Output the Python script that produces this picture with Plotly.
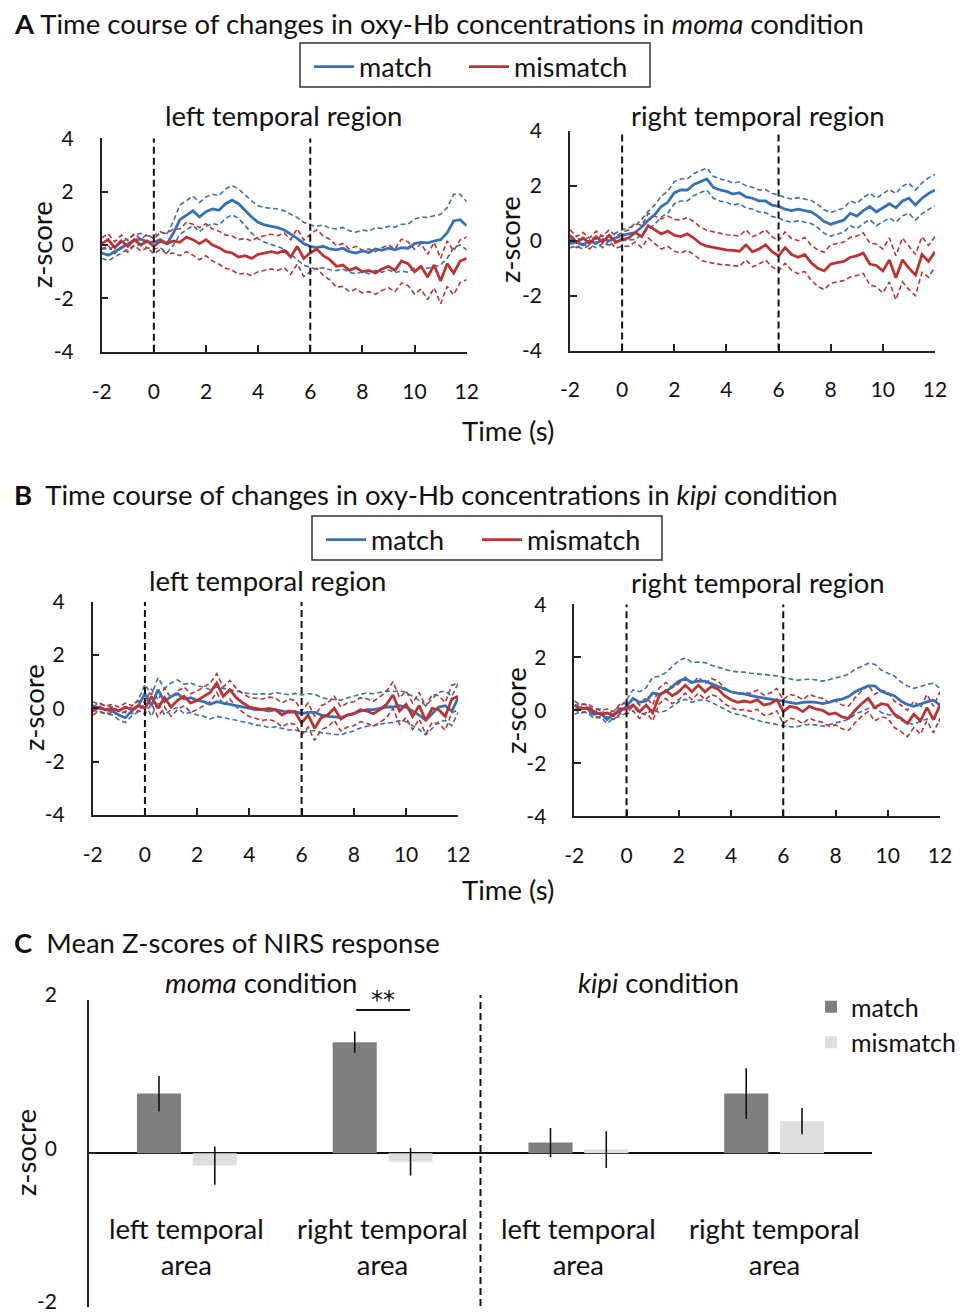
import plotly.graph_objects as go

# The page is shown with the browser's default 8 px body margin, so the
# figure is sized to fill the remaining window and every layout position
# below is given in window pixels and converted here.
PAGE_OFFSET = 8
W, H = 962, 1308


def px(x):
    return (x - PAGE_OFFSET) / W


def py(y):
    return 1 - (y - PAGE_OFFSET) / H


FONT = "Lato"
BLUE = "#3670B5"
RED = "#BB3333"
INK = "#111111"

# ---------------- time course data (z-score), 0.25 s steps ----------------
time_s = [-2.0, -1.75, -1.5, -1.25, -1.0, -0.75, -0.5, -0.25,
          0.0, 0.25, 0.5, 0.75, 1.0, 1.25, 1.5, 1.75,
          2.0, 2.25, 2.5, 2.75, 3.0, 3.25, 3.5, 3.75,
          4.0, 4.25, 4.5, 4.75, 5.0, 5.25, 5.5, 5.75,
          6.0, 6.25, 6.5, 6.75, 7.0, 7.25, 7.5, 7.75,
          8.0, 8.25, 8.5, 8.75, 9.0, 9.25, 9.5, 9.75,
          10.0, 10.25, 10.5, 10.75, 11.0, 11.25, 11.5, 11.75,
          12.0]

# A: moma condition, left temporal region
moma_left_match = [-0.30, -0.38, -0.25, -0.10, 0.05, 0.18, 0.22, 0.12,
                   0.10, 0.20, 0.05, 0.45, 0.95, 1.10, 1.28, 1.05,
                   1.25, 1.35, 1.30, 1.55, 1.68, 1.55, 1.30, 1.05,
                   0.85, 0.75, 0.70, 0.65, 0.56, 0.40, 0.25, 0.05,
                   -0.05, -0.10, -0.05, -0.15, -0.18, -0.12, -0.25, -0.30,
                   -0.22, -0.28, -0.15, -0.20, -0.12, -0.18, -0.10, -0.12,
                   0.05, 0.10, 0.08, 0.15, 0.20, 0.45, 0.90, 0.95,
                   0.72]
moma_left_match_se = [0.20, 0.20, 0.20, 0.20, 0.20, 0.20, 0.22, 0.22,
                      0.25, 0.30, 0.35, 0.45, 0.55, 0.55, 0.55, 0.55,
                      0.55, 0.55, 0.55, 0.55, 0.55, 0.55, 0.58, 0.60,
                      0.62, 0.65, 0.68, 0.70, 0.72, 0.75, 0.78, 0.80,
                      0.80, 0.80, 0.80, 0.78, 0.78, 0.78, 0.78, 0.78,
                      0.78, 0.80, 0.80, 0.82, 0.82, 0.85, 0.88, 0.90,
                      0.92, 0.95, 0.95, 0.95, 0.95, 0.95, 1.00, 0.95,
                      0.90]
moma_left_mismatch = [0.05, 0.20, -0.10, 0.15, -0.05, 0.20, 0.00, 0.15,
                      -0.05, 0.15, 0.05, 0.15, 0.10, 0.30, 0.20, 0.05,
                      0.20, 0.00, -0.10, -0.25, -0.30, -0.45, -0.40, -0.50,
                      -0.35, -0.30, -0.25, -0.30, -0.20, -0.45, -0.05, -0.50,
                      -0.30, -0.15, -0.40, -0.55, -0.80, -0.75, -0.95, -0.85,
                      -1.00, -0.95, -1.05, -0.90, -0.80, -0.95, -0.60, -0.70,
                      -1.00, -0.80, -1.20, -0.75, -1.35, -0.70, -1.05, -0.60,
                      -0.50]
moma_left_mismatch_se = [0.22, 0.22, 0.22, 0.22, 0.22, 0.22, 0.22, 0.25,
                         0.28, 0.32, 0.38, 0.45, 0.50, 0.55, 0.58, 0.60,
                         0.60, 0.60, 0.62, 0.62, 0.64, 0.65, 0.65, 0.65,
                         0.65, 0.65, 0.65, 0.65, 0.65, 0.65, 0.66, 0.68,
                         0.70, 0.72, 0.74, 0.76, 0.78, 0.80, 0.80, 0.80,
                         0.80, 0.80, 0.80, 0.80, 0.80, 0.80, 0.82, 0.82,
                         0.84, 0.85, 0.85, 0.85, 0.85, 0.85, 0.82, 0.80,
                         0.80]

# A: moma condition, right temporal region
moma_right_match = [-0.10, -0.05, -0.15, 0.00, -0.10, 0.05, 0.00, 0.10,
                    0.20, 0.25, 0.30, 0.50, 0.75, 0.95, 1.25, 1.40,
                    1.75, 1.85, 1.85, 2.05, 2.15, 2.25, 1.95, 1.85,
                    1.80, 1.70, 1.75, 1.60, 1.55, 1.45, 1.45, 1.30,
                    1.25, 1.15, 1.10, 1.15, 1.10, 1.05, 0.90, 0.70,
                    0.60, 0.68, 0.75, 1.00, 0.90, 1.10, 1.25, 1.05,
                    1.20, 1.35, 1.20, 1.45, 1.55, 1.30, 1.55, 1.72,
                    1.85]
moma_right_match_se = [0.15, 0.15, 0.15, 0.15, 0.15, 0.15, 0.16, 0.18,
                       0.20, 0.22, 0.25, 0.28, 0.32, 0.35, 0.38, 0.40,
                       0.40, 0.40, 0.40, 0.40, 0.40, 0.40, 0.40, 0.40,
                       0.40, 0.40, 0.40, 0.40, 0.40, 0.40, 0.42, 0.42,
                       0.42, 0.42, 0.42, 0.42, 0.42, 0.42, 0.42, 0.43,
                       0.43, 0.43, 0.44, 0.45, 0.46, 0.47, 0.48, 0.50,
                       0.50, 0.52, 0.52, 0.54, 0.55, 0.55, 0.56, 0.57,
                       0.57]
moma_right_mismatch = [0.20, -0.05, 0.10, -0.10, 0.15, -0.05, 0.20, -0.05,
                       0.05, 0.10, 0.30, 0.15, 0.55, 0.40, 0.25, 0.35,
                       0.20, 0.15, 0.25, 0.10, -0.10, -0.20, -0.25, -0.30,
                       -0.33, -0.35, -0.38, -0.15, -0.40, -0.30, -0.15, -0.40,
                       -0.55, -0.25, -0.50, -0.60, -0.50, -0.80, -1.00, -1.10,
                       -0.85, -0.80, -0.75, -0.60, -0.55, -0.45, -0.85, -0.90,
                       -1.10, -0.70, -1.35, -0.70, -1.00, -1.25, -0.50, -0.75,
                       -0.40]
moma_right_mismatch_se = [0.20, 0.20, 0.20, 0.20, 0.20, 0.20, 0.20, 0.22,
                          0.25, 0.30, 0.35, 0.40, 0.45, 0.50, 0.55, 0.55,
                          0.58, 0.60, 0.60, 0.60, 0.60, 0.58, 0.58, 0.56,
                          0.55, 0.55, 0.55, 0.55, 0.55, 0.55, 0.55, 0.55,
                          0.55, 0.57, 0.58, 0.60, 0.62, 0.64, 0.66, 0.68,
                          0.70, 0.70, 0.70, 0.72, 0.72, 0.74, 0.76, 0.78,
                          0.80, 0.80, 0.80, 0.80, 0.78, 0.75, 0.65, 0.58,
                          0.55]

# B: kipi condition, left temporal region
kipi_left_match = [0.10, 0.00, -0.05, -0.10, -0.25, -0.35, -0.10, 0.10,
                   0.55, 0.10, 0.70, 0.25, 0.45, 0.55, 0.35, 0.40,
                   0.30, 0.25, 0.15, 0.25, 0.20, 0.15, 0.10, 0.05,
                   0.00, -0.05, -0.05, -0.10, -0.05, -0.10, -0.15, -0.12,
                   -0.20, -0.15, -0.15, -0.25, -0.30, -0.32, -0.35, -0.25,
                   -0.20, -0.10, -0.05, -0.05, 0.00, 0.05, 0.05, 0.10,
                   0.05, -0.10, -0.25, -0.45, -0.20, 0.05, 0.10, -0.10,
                   0.40]
kipi_left_match_se = [0.15, 0.15, 0.15, 0.15, 0.18, 0.18, 0.18, 0.22,
                      0.35, 0.40, 0.45, 0.50, 0.50, 0.52, 0.55, 0.55,
                      0.55, 0.55, 0.55, 0.55, 0.55, 0.55, 0.55, 0.55,
                      0.55, 0.58, 0.60, 0.62, 0.64, 0.65, 0.66, 0.68,
                      0.70, 0.70, 0.68, 0.66, 0.65, 0.65, 0.65, 0.65,
                      0.65, 0.64, 0.62, 0.60, 0.60, 0.60, 0.58, 0.56,
                      0.55, 0.55, 0.55, 0.55, 0.55, 0.55, 0.55, 0.55,
                      0.55]
kipi_left_mismatch = [-0.10, 0.05, -0.05, 0.00, -0.10, 0.05, -0.05, 0.10,
                      0.00, 0.45, 0.00, 0.40, 0.05, 0.30, 0.45, 0.20,
                      0.30, 0.45, 0.60, 0.95, 0.45, 0.70, 0.40, 0.20,
                      0.05, 0.00, -0.05, 0.00, -0.05, -0.25, -0.10, -0.15,
                      -0.55, -0.25, -0.75, -0.35, -0.25, 0.00, -0.40, -0.25,
                      -0.20, -0.05, -0.10, -0.20, -0.05, 0.15, 0.50, -0.10,
                      0.15, -0.30, 0.10, -0.45, 0.00, -0.05, -0.30, 0.35,
                      0.45]
kipi_left_mismatch_se = [0.15, 0.15, 0.15, 0.15, 0.15, 0.15, 0.15, 0.18,
                         0.22, 0.28, 0.32, 0.35, 0.35, 0.35, 0.35, 0.35,
                         0.35, 0.35, 0.35, 0.35, 0.35, 0.35, 0.35, 0.35,
                         0.36, 0.38, 0.40, 0.42, 0.44, 0.45, 0.45, 0.45,
                         0.45, 0.45, 0.45, 0.45, 0.45, 0.45, 0.45, 0.45,
                         0.45, 0.45, 0.46, 0.47, 0.48, 0.50, 0.50, 0.50,
                         0.50, 0.50, 0.50, 0.52, 0.52, 0.52, 0.52, 0.52,
                         0.50]

# B: kipi condition, right temporal region
kipi_right_match = [0.00, 0.10, 0.05, -0.15, -0.10, -0.35, -0.15, -0.05,
                    0.15, 0.45, 0.30, 0.35, 0.65, 0.60, 0.70, 0.90,
                    1.10, 1.20, 1.05, 1.10, 1.10, 1.00, 0.90, 0.80,
                    0.70, 0.65, 0.62, 0.55, 0.50, 0.45, 0.42, 0.38,
                    0.33, 0.28, 0.25, 0.30, 0.32, 0.30, 0.25, 0.30,
                    0.38, 0.42, 0.52, 0.70, 0.82, 0.92, 0.92, 0.72,
                    0.62, 0.55, 0.35, 0.22, 0.15, 0.25, 0.32, 0.38,
                    0.20]
kipi_right_match_se = [0.15, 0.15, 0.15, 0.15, 0.15, 0.15, 0.15, 0.18,
                       0.25, 0.32, 0.40, 0.50, 0.60, 0.68, 0.72, 0.75,
                       0.78, 0.78, 0.75, 0.72, 0.70, 0.70, 0.72, 0.75,
                       0.78, 0.80, 0.82, 0.85, 0.88, 0.90, 0.90, 0.92,
                       0.92, 0.90, 0.88, 0.86, 0.85, 0.85, 0.85, 0.85,
                       0.85, 0.85, 0.85, 0.85, 0.85, 0.85, 0.82, 0.80,
                       0.78, 0.75, 0.72, 0.70, 0.68, 0.66, 0.65, 0.65,
                       0.62]
kipi_right_mismatch = [0.20, 0.05, 0.10, -0.05, -0.15, -0.10, -0.20, 0.05,
                       0.05, 0.20, -0.05, 0.20, -0.10, 0.55, 0.75, 0.55,
                       0.70, 0.95, 0.70, 0.95, 0.70, 0.90, 0.80, 0.55,
                       0.40, 0.30, 0.35, 0.30, 0.40, 0.20, 0.25, 0.40,
                       -0.05, 0.15, 0.10, -0.05, 0.15, 0.05, 0.00, -0.15,
                       -0.10, -0.25, -0.30, 0.00, 0.25, 0.45, 0.10, 0.25,
                       0.20, -0.15, -0.30, -0.50, -0.15, -0.40, 0.10, -0.35,
                       0.20]
kipi_right_mismatch_se = [0.15, 0.15, 0.15, 0.15, 0.15, 0.15, 0.15, 0.18,
                          0.20, 0.22, 0.25, 0.28, 0.30, 0.30, 0.30, 0.30,
                          0.30, 0.30, 0.30, 0.30, 0.30, 0.30, 0.30, 0.30,
                          0.30, 0.30, 0.32, 0.34, 0.36, 0.38, 0.40, 0.42,
                          0.45, 0.45, 0.45, 0.45, 0.45, 0.45, 0.45, 0.45,
                          0.45, 0.45, 0.46, 0.47, 0.48, 0.50, 0.50, 0.50,
                          0.50, 0.50, 0.50, 0.50, 0.50, 0.50, 0.50, 0.50,
                          0.50]

x_ticks = [-2, 0, 2, 4, 6, 8, 10, 12]
x_tick_labels = ["-2", "0", "2", "4", "6", "8", "10", "12"]
y_ticks = [-4, -2, 0, 2, 4]
y_tick_labels = ["-4", "-2", "0", "2", "4"]
stimulus_marks = [0, 6]

# ---------------- mean z-score data (panel C) ----------------
bar_categories = ["left temporal<br>area", "right temporal<br>area",
                  "left temporal<br>area", "right temporal<br>area"]
bar_match = [0.78, 1.45, 0.14, 0.78]
bar_match_err = [0.23, 0.14, 0.19, 0.33]
bar_mismatch = [-0.16, -0.11, 0.05, 0.42]
bar_mismatch_err = [0.25, 0.18, 0.24, 0.17]
bar_y_ticks = [-2, 0, 2]
bar_y_tick_labels = ["-2", "0", "2"]

fig = go.Figure()

# each legend entry of panels A and B lives in its own legend box
panels = [
    dict(xa="x", ya="y", legs=("legend", "legend4"), show=True,
         m=(moma_left_match, moma_left_match_se),
         mm=(moma_left_mismatch, moma_left_mismatch_se)),
    dict(xa="x2", ya="y2", legs=("legend", "legend4"), show=False,
         m=(moma_right_match, moma_right_match_se),
         mm=(moma_right_mismatch, moma_right_mismatch_se)),
    dict(xa="x3", ya="y3", legs=("legend2", "legend5"), show=True,
         m=(kipi_left_match, kipi_left_match_se),
         mm=(kipi_left_mismatch, kipi_left_mismatch_se)),
    dict(xa="x4", ya="y4", legs=("legend2", "legend5"), show=False,
         m=(kipi_right_match, kipi_right_match_se),
         mm=(kipi_right_mismatch, kipi_right_mismatch_se)),
]

for p in panels:
    for key, color in (("m", BLUE), ("mm", RED)):
        mean, se = p[key]
        upper = [a + b for a, b in zip(mean, se)]
        lower = [a - b for a, b in zip(mean, se)]
        for band in (upper, lower):
            fig.add_trace(go.Scatter(
                x=time_s, y=band, xaxis=p["xa"], yaxis=p["ya"], mode="lines",
                line=dict(color=color, width=1.6, dash="5px,3px"),
                showlegend=False, hoverinfo="skip"))
    for (key, color, name), leg in zip((("m", BLUE, "match"), ("mm", RED, "mismatch")),
                                       p["legs"]):
        mean, se = p[key]
        fig.add_trace(go.Scatter(
            x=time_s, y=mean, xaxis=p["xa"], yaxis=p["ya"], mode="lines",
            line=dict(color=color, width=2.8), name=name,
            legend=leg, showlegend=p["show"]))

# bars
fig.add_trace(go.Bar(
    x=list(range(len(bar_categories))), y=bar_match, name="match",
    xaxis="x5", yaxis="y5", marker=dict(color="#7F7F7F", line=dict(width=0)),
    error_y=dict(type="data", array=bar_match_err, color=INK, thickness=1.6, width=0),
    legend="legend3"))
fig.add_trace(go.Bar(
    x=list(range(len(bar_categories))), y=bar_mismatch, name="mismatch",
    xaxis="x5", yaxis="y5", marker=dict(color="#DEDEDE", line=dict(width=0)),
    error_y=dict(type="data", array=bar_mismatch_err, color=INK, thickness=1.6, width=0),
    legend="legend3"))

axis_common = dict(showgrid=False, zeroline=False, showline=True, linecolor="#222",
                   linewidth=1.5, ticks="inside", ticklen=7, tickwidth=1.5,
                   tickcolor="#222", automargin=False, tickmode="array",
                   ticklabeloverflow="allow",
                   tickfont=dict(family=FONT, size=21, color=INK))

# window-pixel boxes of the four time-course plots: (left, right, top, bottom)
boxes = [(101.7, 466.7, 138.3, 351.7), (570.0, 935.0, 131.0, 350.5),
         (92.7, 458.3, 601.7, 815.0), (574.3, 940.0, 604.3, 816.3)]

layout = dict(width=W, height=H, autosize=False,
              margin=dict(l=0, r=0, t=0, b=0, pad=0, autoexpand=False),
              paper_bgcolor="white", plot_bgcolor="white",
              font=dict(family=FONT, color=INK),
              barmode="group", bargap=0.43, bargroupgap=0.21)

for i, (l, r, t, b) in enumerate(boxes):
    n = "" if i == 0 else str(i + 1)
    layout["xaxis" + n] = dict(axis_common, domain=[px(l), px(r)], anchor="y" + n,
                               range=[-2, 12], tickvals=x_ticks, ticktext=x_tick_labels,
                               ticklabelstandoff=20)
    layout["yaxis" + n] = dict(axis_common, domain=[py(b), py(t)], anchor="x" + n,
                               range=[-4, 4], tickvals=y_ticks, ticktext=y_tick_labels,
                               ticklabelstandoff=22)

layout["xaxis5"] = dict(domain=[px(89), px(872)], anchor="y5", range=[-0.5, 3.5],
                        visible=False, automargin=False)
layout["yaxis5"] = dict(axis_common, domain=[py(1306.7), py(1000)], anchor="x5",
                        range=[-2, 2], tickvals=bar_y_ticks, ticktext=bar_y_tick_labels,
                        zeroline=True, zerolinecolor="#111", zerolinewidth=1.5,
                        ticklabelstandoff=26, ticklabelshift=-5)

legend_item = dict(orientation="h", bgcolor="rgba(0,0,0,0)", borderwidth=0,
                   font=dict(family=FONT, size=27, color=INK),
                   xanchor="left", yanchor="middle", itemwidth=40)
layout["legend"] = dict(legend_item, x=px(309), y=py(67))
layout["legend4"] = dict(legend_item, x=px(464), y=py(67))
layout["legend2"] = dict(legend_item, x=px(321), y=py(540))
layout["legend5"] = dict(legend_item, x=px(477), y=py(540))
layout["legend3"] = dict(orientation="v", bgcolor="rgba(0,0,0,0)", borderwidth=0,
                         font=dict(family=FONT, size=25, color=INK),
                         x=px(811), y=py(984), xanchor="left", yanchor="top",
                         tracegroupgap=0)

fig.update_layout(**layout)

shapes = []
# frames around the line legends
for (l, t, r, b) in ((300, 43, 650, 87), (312, 516, 662, 560)):
    shapes.append(dict(type="rect", xref="paper", yref="paper",
                       x0=px(l), x1=px(r), y0=py(b), y1=py(t),
                       line=dict(color="#333", width=1.5), fillcolor="rgba(0,0,0,0)"))
# stimulus onset / offset markers
for i in range(4):
    n = "" if i == 0 else str(i + 1)
    for s in stimulus_marks:
        shapes.append(dict(type="line", xref="x" + n, yref="y" + n, x0=s, x1=s,
                           y0=-4, y1=4, line=dict(color=INK, width=2, dash="7px,4px")))
shapes.append(dict(type="line", xref="x5", yref="paper", x0=1.5, x1=1.5,
                   y0=py(1306), y1=py(995), line=dict(color=INK, width=2, dash="7px,4px")))
shapes.append(dict(type="line", xref="x5", yref="paper", x0=0.865, x1=1.14,
                   y0=py(1010), y1=py(1010), line=dict(color=INK, width=2)))
fig.update_layout(shapes=shapes)

TXT = 27.5
ann = []


def text(x, y, s, size=TXT, anchor="center", angle=0, xref="paper", yref="paper", family=FONT):
    ann.append(dict(x=x, y=y, xref=xref, yref=yref, text=s, showarrow=False,
                    xanchor=anchor, yanchor="middle", textangle=angle,
                    font=dict(family=family, size=size, color=INK)))


text(px(12), py(24), "<b>A</b> Time course of changes in oxy-Hb concentrations in <i>moma</i> condition",
     anchor="left")
text(px(12), py(494), "<b>B</b>\u00a0 Time course of changes in oxy-Hb concentrations in <i>kipi</i> condition",
     anchor="left")
text(px(12), py(942), "<b>C</b>\u00a0 Mean Z-scores of NIRS response", anchor="left")

text(px(283), py(116), "left temporal region")
text(px(758), py(116), "right temporal region")
text(px(267), py(580), "left temporal region")
text(px(758), py(582), "right temporal region")

text(px(508), py(430), "Time (s)")
text(px(508), py(889), "Time (s)")

text(px(42), py(245), "z-score", angle=-90)
text(px(510), py(240), "z-score", angle=-90)
text(px(33), py(708), "z-score", angle=-90)
text(px(515), py(710), "z-score", angle=-90)

text(px(261), py(982), "<i>moma</i> condition")
text(px(658), py(982), "<i>kipi</i> condition")
text(px(25), py(1153), "z-socre", angle=-90)
text(1, py(1000), "**", size=24, xref="x5", family="DejaVu Sans")

for i, c in enumerate(bar_categories):
    text(i, -1.22, c, xref="x5", yref="y5")

fig.update_layout(annotations=ann)

fig.write_html("out.html")
